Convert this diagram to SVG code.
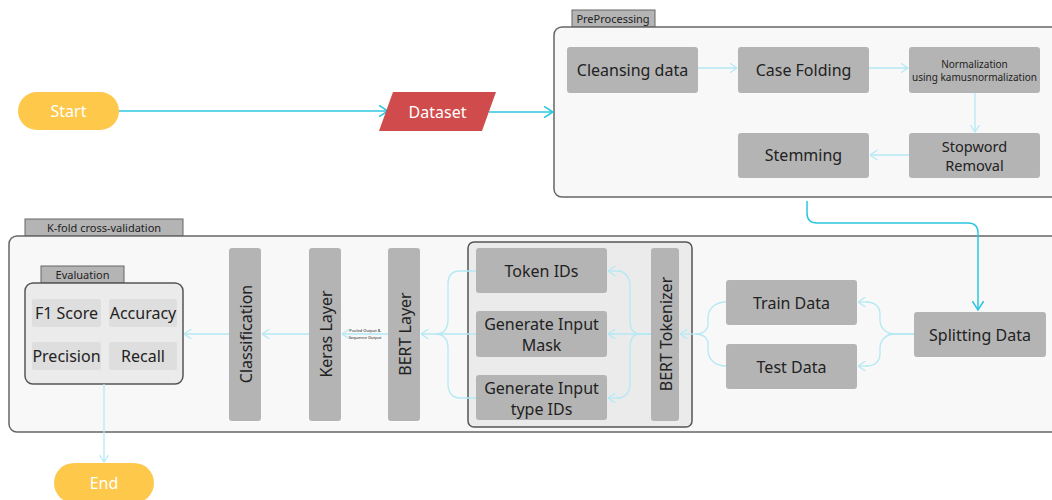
<svg xmlns="http://www.w3.org/2000/svg" width="1052" height="500" viewBox="0 0 1052 500">
<defs>
<marker id="ah" viewBox="0 0 8 10" refX="7.5" refY="5" markerWidth="8" markerHeight="10" markerUnits="userSpaceOnUse" orient="auto">
<path d="M0,0 L7.5,5 L0,10" fill="none" stroke="#b4e9f4" stroke-width="1.2"/>
</marker>
<marker id="ahb" viewBox="0 0 10 12" refX="9.5" refY="6" markerWidth="10" markerHeight="12" markerUnits="userSpaceOnUse" orient="auto">
<path d="M0,0 L9.5,6 L0,12" fill="none" stroke="#2cc6df" stroke-width="1.5"/>
</marker>
</defs>
<style>
text{font-family:"Noto Sans","Open Sans","Liberation Sans",sans-serif;fill:#222;text-anchor:middle;dominant-baseline:central}
.n{fill:#b4b4b4}
.m{fill:#dedede}
.frame{fill:#f8f8f8;stroke:#666;stroke-width:1.5}
.sub{fill:#ebebeb;stroke:#555;stroke-width:1.5}
.tab{fill:#b4b4b4;stroke:#666;stroke-width:1}
.t16{font-size:16px}
.t14{font-size:14.5px}
.t11{font-size:11px}
.c{fill:none;stroke:#b4e9f4;stroke-width:1.3;marker-end:url(#ah)}
.cl{fill:none;stroke:#b4e9f4;stroke-width:1.3}
.cb{fill:none;stroke:#2cc6df;stroke-width:1.5;marker-end:url(#ahb)}
.w{fill:#fff}
</style>

<g id="preprocessing">
<rect class="tab" x="572" y="10" width="83" height="17"/>
<text class="t11" x="613" y="18.5">PreProcessing</text>
<rect class="frame" x="554" y="27" width="510" height="170" rx="8"/>
</g>
<g id="kfold">
<rect class="tab" x="25" y="219" width="158" height="17"/>
<text class="t11" x="104" y="227.5">K-fold cross-validation</text>
<rect class="frame" x="9" y="236" width="1060" height="196" rx="8"/>
</g>
<g id="tokenizer-group">
<rect class="sub" x="468" y="242" width="224" height="185" rx="6"/>
</g>
<g id="evaluation">
<rect class="tab" x="41" y="266" width="83" height="17"/>
<text class="t11" x="82.5" y="274.5">Evaluation</text>
<rect class="sub" x="25" y="283" width="158" height="101" rx="8"/>
</g>

<g id="connectors">
<path class="cb" d="M119,111 H388"/>
<path class="cb" d="M489,112 H553"/>
<path class="c" d="M698,68 H737"/>
<path class="c" d="M869,68 H908"/>
<path class="c" d="M975,93 V132"/>
<path class="c" d="M909,155 H870"/>
<path class="cb" d="M807,201 V213 Q807,223 817,223 H968 Q978,223 978,233 V310"/>
<path class="cl" d="M914,334 H895 C886,334 880,328 880,320 V314 C880,306 874,302 866,302"/>
<path class="c" d="M868,302 H858"/>
<path class="cl" d="M914,334 H895 C886,334 880,340 880,348 V354 C880,362 874,366 866,366"/>
<path class="c" d="M868,366 H858"/>
<path class="cl" d="M726,302 C716,302 708,308 708,318 V324 C708,330 703,334 696,334"/>
<path class="cl" d="M726,366 C716,366 708,360 708,350 V344 C708,338 703,334 696,334"/>
<path class="c" d="M698,334 H680"/>
<path class="cl" d="M651,334 H640 C633,334 630,328 630,320 V286 C630,278 625,271 618,271"/>
<path class="c" d="M620,271 H608"/>
<path class="c" d="M651,334 H608"/>
<path class="cl" d="M651,334 H640 C633,334 630,340 630,348 V384 C630,392 625,398 618,398"/>
<path class="c" d="M620,398 H608"/>
<path class="cl" d="M476,271 H460 C452,271 448,276 448,284 V320 C448,328 444,334 436,334"/>
<path class="cl" d="M476,398 H460 C452,398 448,392 448,384 V348 C448,340 444,334 436,334"/>
<path class="c" d="M476,334 H421"/>
<path class="c" d="M388,334 H342"/>
<path class="c" d="M309,334 H262"/>
<path class="c" d="M229,334 H184"/>
<path class="c" d="M104,384 V462"/>
<text x="365" y="330" style="font-size:4px">Pooled Output &amp;</text>
<text x="365" y="337" style="font-size:4px">Sequence Output</text>
</g>

<g id="start">
<rect x="18" y="92" width="101" height="38" rx="19" fill="#fec84b"/>
<text class="t16 w" x="68.5" y="111">Start</text>
</g>
<g id="dataset">
<polygon points="393,92 496,92 482,131 379,131" fill="#d04b4b"/>
<text class="t16 w" x="437.5" y="112">Dataset</text>
</g>

<g id="cleansing"><rect class="n" x="567" y="47" width="131" height="46" rx="3"/><text class="t16" x="632.5" y="70">Cleansing data</text></g>
<g id="casefolding"><rect class="n" x="738" y="47" width="131" height="46" rx="3"/><text class="t16" x="803.5" y="70">Case Folding</text></g>
<g id="normalization"><rect class="n" x="909" y="47" width="131" height="46" rx="3"/><text x="974.5" y="64" style="font-size:10px">Normalization</text><text x="974.5" y="77" style="font-size:10px">using kamusnormalization</text></g>
<g id="stopword"><rect class="n" x="909" y="133" width="131" height="45" rx="3"/><text class="t14" x="974.5" y="146">Stopword</text><text class="t14" x="974.5" y="165">Removal</text></g>
<g id="stemming"><rect class="n" x="738" y="133" width="131" height="45" rx="3"/><text class="t16" x="803.5" y="155">Stemming</text></g>

<g id="splitting"><rect class="n" x="914" y="312" width="132" height="45" rx="3"/><text class="t16" x="980" y="335">Splitting Data</text></g>
<g id="traindata"><rect class="n" x="726" y="280" width="131" height="45" rx="3"/><text class="t16" x="791.5" y="303">Train Data</text></g>
<g id="testdata"><rect class="n" x="726" y="344" width="131" height="45" rx="3"/><text class="t16" x="791.5" y="367">Test Data</text></g>

<g id="tokenids"><rect class="n" x="476" y="248" width="131" height="45" rx="3"/><text class="t16" x="541.5" y="271">Token IDs</text></g>
<g id="inputmask"><rect class="n" x="476" y="311" width="131" height="46" rx="3"/><text class="t16" x="541.5" y="324">Generate Input</text><text class="t16" x="541.5" y="345">Mask</text></g>
<g id="inputtype"><rect class="n" x="476" y="375" width="131" height="45" rx="3"/><text class="t16" x="541.5" y="388">Generate Input</text><text class="t16" x="541.5" y="409">type IDs</text></g>
<g id="berttokenizer"><rect class="n" x="651" y="248" width="28" height="173" rx="3"/><text class="t16" transform="translate(666,334) rotate(-90)">BERT Tokenizer</text></g>

<g id="bertlayer"><rect class="n" x="388" y="248" width="32" height="173" rx="3"/><text class="t16" transform="translate(405,334) rotate(-90)">BERT Layer</text></g>
<g id="keraslayer"><rect class="n" x="309" y="248" width="32" height="173" rx="3"/><text class="t16" transform="translate(326,334) rotate(-90)">Keras Layer</text></g>
<g id="classification"><rect class="n" x="229" y="248" width="32" height="173" rx="3"/><text class="t16" transform="translate(246,334) rotate(-90)">Classification</text></g>

<g id="f1"><rect class="m" x="32" y="299" width="69" height="28" rx="2"/><text class="t16" x="66.5" y="313">F1 Score</text></g>
<g id="accuracy"><rect class="m" x="109" y="299" width="68" height="28" rx="2"/><text class="t16" x="143" y="313">Accuracy</text></g>
<g id="precision"><rect class="m" x="32" y="342" width="69" height="28" rx="2"/><text class="t16" x="66.5" y="356">Precision</text></g>
<g id="recall"><rect class="m" x="109" y="342" width="68" height="28" rx="2"/><text class="t16" x="143" y="356">Recall</text></g>

<g id="end">
<rect x="54" y="463" width="100" height="40" rx="20" fill="#fec84b"/>
<text class="t16 w" x="104" y="483">End</text>
</g>
</svg>
